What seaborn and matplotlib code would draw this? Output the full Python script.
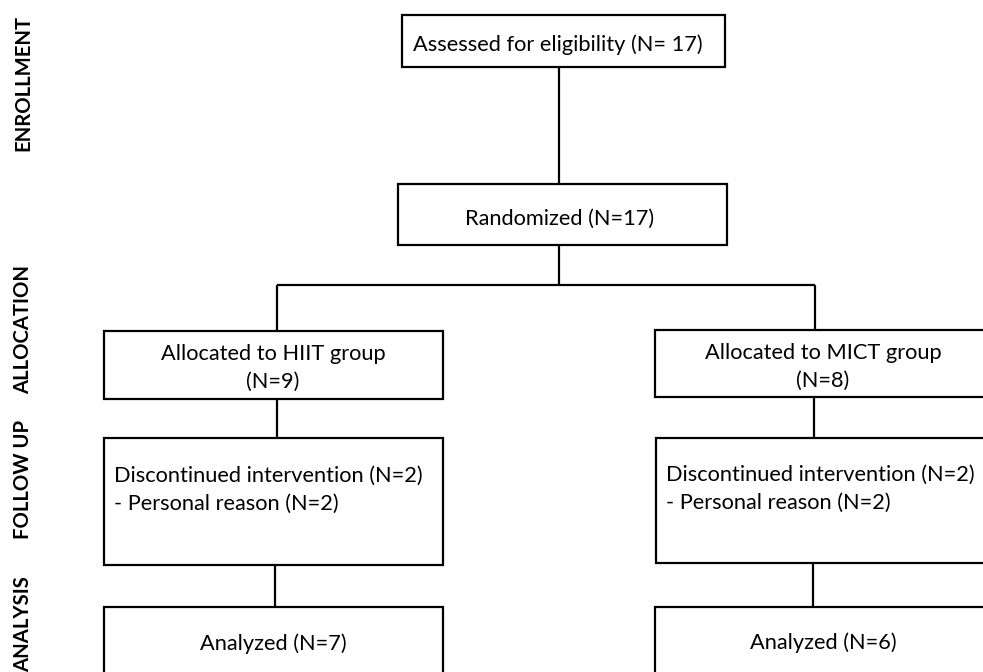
import matplotlib
matplotlib.use("Agg")
import matplotlib.pyplot as plt
import seaborn as sns
from matplotlib.patches import Rectangle

# ---- content ----
stage_labels = ["ENROLLMENT", "ALLOCATION", "FOLLOW UP", "ANALYSIS"]
box_texts = {
    "assessed": "Assessed for eligibility (N= 17)",
    "randomized": "Randomized (N=17)",
    "hiit_alloc": "Allocated to HIIT group\n(N=9)",
    "mict_alloc": "Allocated to MICT group\n(N=8)",
    "hiit_fu": "Discontinued intervention (N=2)\n- Personal reason (N=2)",
    "mict_fu": "Discontinued intervention (N=2)\n- Personal reason (N=2)",
    "hiit_an": "Analyzed (N=7)",
    "mict_an": "Analyzed (N=6)",
}

# ---- layout (pixel coordinates, y downward) ----
boxes = {
    "assessed": (402, 15, 725, 67),
    "randomized": (398, 184, 727, 245),
    "hiit_alloc": (104, 331, 443, 399),
    "mict_alloc": (655, 330, 992, 397),
    "hiit_fu": (104, 438, 443, 565),
    "mict_fu": (656, 438, 992, 563),
    "hiit_an": (104, 607, 443, 720),
    "mict_an": (655, 607, 992, 720),
}
text_pos = {
    "assessed": (558, 45, "center"),
    "randomized": (560, 219, "center"),
    "hiit_alloc": (273, 368, "center"),
    "mict_alloc": (823, 367, "center"),
    "hiit_fu": (114, 490, "left"),
    "mict_fu": (666, 489, "left"),
    "hiit_an": (273, 644, "center"),
    "mict_an": (823, 643, "center"),
}
connectors = [
    ((559, 67), (559, 184)),
    ((559, 245), (559, 285)),
    ((277, 285), (815, 285)),
    ((277, 285), (277, 331)),
    ((815, 285), (815, 330)),
    ((277, 399), (277, 438)),
    ((814, 397), (814, 438)),
    ((275, 565), (275, 607)),
    ((813, 563), (813, 607)),
]
label_pos = [(23, 83), (23, 330), (23, 479), (23, 624)]

sns.set_theme(style="white")
plt.rcParams["font.family"] = ["Lato", "DejaVu Sans"]

fig = plt.figure(figsize=(9.83, 6.72), dpi=100)
ax = fig.add_axes([0, 0, 1, 1])
ax.set_xlim(0, 983)
ax.set_ylim(672, 0)
ax.axis("off")

lw = 1.6
for (x0, y0), (x1, y1) in connectors:
    ax.plot([x0, x1], [y0, y1], color="black", lw=lw, solid_capstyle="butt")

for key, (x0, y0, x1, y1) in boxes.items():
    ax.add_patch(Rectangle((x0, y0), x1 - x0, y1 - y0, fill=True,
                           facecolor="white", edgecolor="black", lw=lw, zorder=2))
    tx, ty, ha = text_pos[key]
    ax.text(tx, ty, box_texts[key], ha=ha, va="center", fontsize=15.7,
            linespacing=1.5, color="black", zorder=3)

for lab, (lx, ly) in zip(stage_labels, label_pos):
    ax.text(lx, ly, lab, rotation=90, ha="center", va="center",
            fontsize=14.6, fontweight="bold", color="black")

fig.savefig("out.png", dpi=100)
